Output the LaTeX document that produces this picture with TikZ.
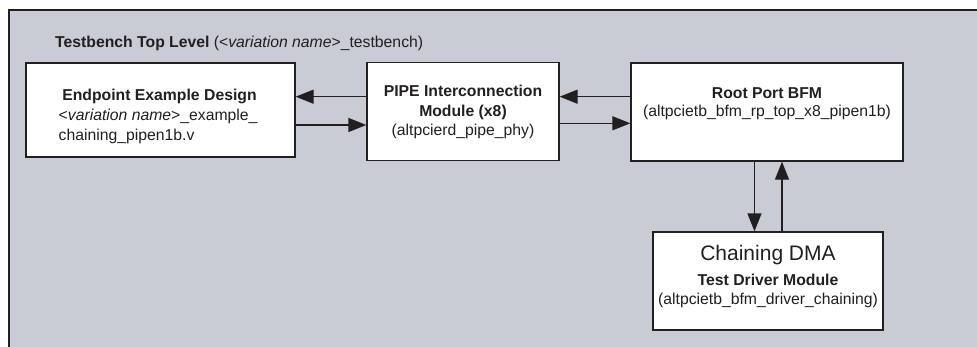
\documentclass[tikz,border=0pt]{standalone}
\usepackage{fontspec}
\setmainfont{Liberation Sans}
\usetikzlibrary{arrows.meta}
\definecolor{bg}{HTML}{C9CCD5}
\definecolor{ink}{HTML}{231F20}
\begin{document}
\begin{tikzpicture}[x=1pt,y=-1pt,
  box/.style={draw=ink, fill=white, line width=1.3pt, inner sep=0pt},
  txt/.style={anchor=base, inner sep=0pt, text=ink, font=\fontsize{15.75}{19}\selectfont},
  btxt/.style={txt, font=\fontsize{15.75}{19}\selectfont\bfseries},
  arr/.style={draw=ink, line width=1.3pt, -{Triangle[length=18pt,width=14pt]}}]
\useasboundingbox (0,0) rectangle (977,346);
\draw[draw=ink, fill=bg, line width=1.5pt] (9,10) rectangle (995,365);
% title
\node[btxt, anchor=base west] (title) at (55,47.3) {Testbench Top Level \mdseries(<\textit{variation name}>\_testbench)};
% boxes
\node[box, minimum width=269pt, minimum height=94pt] (ep) at (160.5,110) {};
\node[box, minimum width=192pt, minimum height=98pt] (pipe) at (463,111.5) {};
\node[box, minimum width=272pt, minimum height=98pt] (rp) at (767,112) {};
\node[box, minimum width=230pt, minimum height=98pt] (dma) at (768,281) {};
% endpoint text
\node[btxt] (ep1) at (159.5,100) {Endpoint Example Design};
\node[txt, anchor=base west] (ep2) at (58.5,120.5) {<\textit{variation name}>\_example\_};
\node[txt, anchor=base west] (ep3) at (58.5,140) {chaining\_pipen1b.v};
% pipe text
\node[btxt] (pp1) at (463,96.7) {PIPE Interconnection};
\node[btxt] (pp2) at (463,116.7) {Module (x8)};
\node[txt] (pp3) at (463,135.5) {(altpcierd\_pipe\_phy)};
% root port text
\node[btxt] (rp1) at (767,98.3) {Root Port BFM};
\node[txt] (rp2) at (767,116.7) {(altpcietb\_bfm\_rp\_top\_x8\_pipen1b)};
% dma text
\node[txt, font=\fontsize{21}{24}\selectfont] (dm1) at (768,260.7) {Chaining DMA};
\node[btxt] (dm2) at (768,285.7) {Test Driver Module};
\node[txt] (dm3) at (768,304) {(altpcietb\_bfm\_driver\_chaining)};
% connectors
\coordinate (ya) at (0,96.7);
\coordinate (yb) at (0,125);
\coordinate (yc) at (0,123.3);
\coordinate (xa) at (754.5,0);
\coordinate (xb) at (782,0);
\draw[arr] (pipe.west |- ya) -- (ep.east |- ya);
\draw[arr] (ep.east |- yb) -- (pipe.west |- yb);
\draw[arr] (rp.west |- ya) -- (pipe.east |- ya);
\draw[arr] (pipe.east |- yc) -- (rp.west |- yc);
\draw[arr] (xa |- rp.south) -- (xa |- dma.north);
\draw[arr] (xb |- dma.north) -- (xb |- rp.south);
\end{tikzpicture}
\end{document}
